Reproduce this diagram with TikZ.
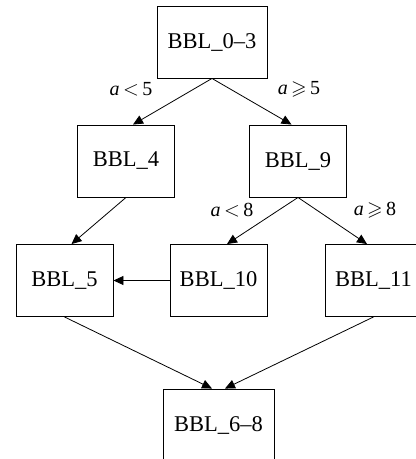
\documentclass[tikz,border=0pt]{standalone}
\usepackage{fontspec}
\usepackage{amssymb}
\setmainfont{Liberation Serif}
\usetikzlibrary{arrows.meta}
\tikzset{
  bb/.style={draw=black, line width=0.9pt, minimum width=97pt, minimum height=72pt, inner sep=0pt, font=\fontsize{22.5}{25}\selectfont},
  wide/.style={minimum width=110pt},
  edge/.style={draw=black, line width=0.8pt, -{Triangle[length=10pt,width=9pt]}},
  lab/.style={font=\fontsize{20}{22}\selectfont, inner sep=0pt}
}
\begin{document}
\begin{tikzpicture}[x=1pt,y=-1pt]
\useasboundingbox (0,0) rectangle (416,459);
\node[bb,wide] (b03) at (212,42) {BBL\_0–3};
\node[bb] (b4) at (126,161) {BBL\_4};
\node[bb] (b9) at (298,161) {BBL\_9};
\node[bb] (b5) at (64.5,280.5) {BBL\_5};
\node[bb] (b10) at (218.5,280.5) {BBL\_10};
\node[bb] (b11) at (373.5,280.5) {BBL\_11};
\node[bb,minimum width=111pt] (b68) at (218.5,425) {BBL\_6–8};
\draw[edge] (b03.south) -- ([xshift=7pt]b4.north);
\draw[edge] (b03.south) -- ([xshift=-6.5pt]b9.north);
\draw[edge] (b4.south) -- ([xshift=7pt]b5.north);
\draw[edge] (b9.south) -- ([xshift=8.5pt]b10.north);
\draw[edge] (b9.south) -- ([xshift=-6.5pt]b11.north);
\draw[edge] (b10.west) -- (b5.east);
\draw[edge] (b5.south) -- ([xshift=-6.5pt]b68.north);
\draw[edge] (b11.south) -- ([xshift=6.5pt]b68.north);
\node[lab] (l1) at (131,89) {\textit{a}$\,<\,$5};
\node[lab] (l2) at (299,89) {\textit{a}$\,\geqslant\,$5};
\node[lab] (l3) at (232,210) {\textit{a}$\,<\,$8};
\node[lab] (l4) at (375,210) {\textit{a}$\,\geqslant\,$8};
\end{tikzpicture}
\end{document}
